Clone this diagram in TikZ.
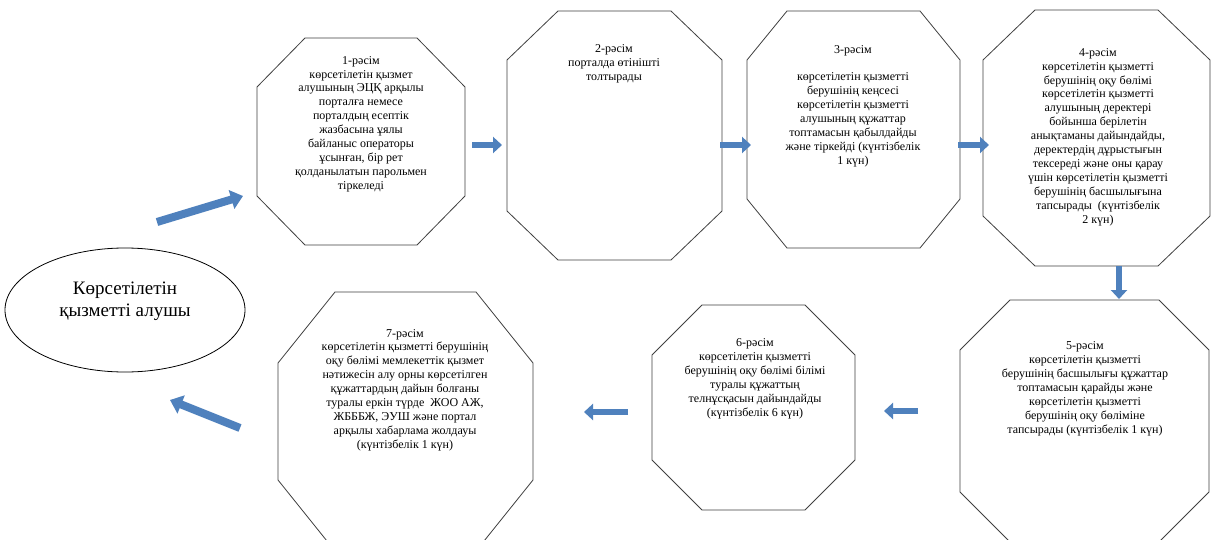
\documentclass[tikz,border=0pt]{standalone}
\usepackage{fontspec}
\setmainfont{Liberation Serif}
\usetikzlibrary{shapes.geometric,arrows.meta}
\definecolor{arrfill}{HTML}{4F81BD}
\definecolor{octcol}{HTML}{404040}
\tikzset{
  octa/.style={draw=octcol, line width=0.8pt, fill=white},
  txt/.style={align=center, inner sep=0pt, font=\fontsize{12}{13.9}\selectfont},
  barrow/.style={draw=arrfill, line width=6.5pt, -{Triangle[length=9pt,width=16pt]}},
  bigarrow/.style={draw=arrfill, line width=8pt, -{Triangle[length=12pt,width=19pt]}},
}
% name, x1, y1, x2, y2, cutx, cuty
\newcommand\octbox[7]{%
  \node[inner sep=0pt, minimum width={(#4-#2)*1pt}, minimum height={(#5-#3)*1pt}] (#1) at ({(#2+#4)/2},{(#3+#5)/2}) {};
  \draw[octa] (#2+#6,#3) -- (#4-#6,#3) -- (#4,#3+#7) -- (#4,#5-#7) -- (#4-#6,#5) -- (#2+#6,#5) -- (#2,#5-#7) -- (#2,#3+#7) -- cycle;
}
\begin{document}
\begin{tikzpicture}[x=1pt,y=-1pt]
\useasboundingbox (0,0) rectangle (1214,540);
\clip (0,0) rectangle (1214,540);
\fill[white] (0,0) rectangle (1214,540);

% ellipse
\node[ellipse, draw=black, line width=0.8pt, minimum width=240pt, minimum height=124pt] (e) at (125,310) {};
\node[align=center, inner sep=0pt, font=\fontsize{19}{22}\selectfont] (et) at (125,301) {Көрсетілетін\\қызметті алушы};

% octagons
\octbox{s1}{257}{38}{465}{245}{48}{49}
\octbox{s2}{507}{11}{722}{260}{51}{49}
\octbox{s3}{747}{11}{960}{248}{40}{49}
\octbox{s4}{983}{10}{1210}{266}{52}{50}
\octbox{s5}{960}{300}{1209}{542}{50}{50}
\octbox{s6}{652}{305}{855}{510}{50}{50}
\octbox{s7}{278}{292}{533}{551}{57}{71}

% texts
\node[txt] (t1) at (361,124) {1-рәсім\\көрсетілетін қызмет\\алушының ЭЦҚ арқылы\\порталға немесе\\порталдың есептік\\жазбасына ұялы\\байланыс операторы\\ұсынған, бір рет\\қолданылатын парольмен\\тіркеледі};
\node[txt] (t2) at (614,64) {2-рәсім\\порталда өтінішті\\толтырады};
\node[txt] (t3) at (853,106) {3-рәсім\\[13.9pt]көрсетілетін қызметті\\берушінің кеңсесі\\көрсетілетін қызметті\\алушының құжаттар\\топтамасын қабылдайды\\және тіркейді (күнтізбелік\\1 күн)};
\node[txt] (t4) at (1098,137) {4-рәсім\\көрсетілетін қызметті\\берушінің оқу бөлімі\\көрсетілетін қызметті\\алушының деректері\\бойынша берілетін\\анықтаманы дайындайды,\\деректердің дұрыстығын\\тексереді және оны қарау\\үшін көрсетілетін қызметті\\берушінің басшылығына\\тапсырады\ \ (күнтізбелік\\2 күн)};
\node[txt] (t5) at (1085,389) {5-рәсім\\көрсетілетін қызметті\\берушінің басшылығы құжаттар\\топтамасын қарайды және\\көрсетілетін қызметті\\берушінің оқу бөліміне\\тапсырады (күнтізбелік 1 күн)};
\node[txt] (t6) at (755,379) {6-рәсім\\көрсетілетін қызметті\\берушінің оқу бөлімі білімі\\туралы құжаттың\\телнұсқасын дайындайды\\(күнтізбелік 6 күн)};
\node[txt] (t7) at (405,390) {7-рәсім\\көрсетілетін қызметті берушінің\\оқу бөлімі мемлекеттік қызмет\\нәтижесін алу орны көрсетілген\\құжаттардың дайын болғаны\\туралы еркін түрде\ \ ЖОО АЖ,\\ЖБББЖ, ЭУШ және портал\\арқылы хабарлама жолдауы\\(күнтізбелік 1 күн)};

% arrow end points
\coordinate (a0s) at (157,222);  \coordinate (a0e) at (243,196);
\coordinate (a1s) at (472,145);  \coordinate (a1e) at (502,145);
\coordinate (a2s) at (720,145);  \coordinate (a2e) at (751,145);
\coordinate (a3s) at (958,145);  \coordinate (a3e) at (989,145);
\coordinate (a4s) at (1119,266); \coordinate (a4e) at (1119,299);
\coordinate (a5s) at (918,411);  \coordinate (a5e) at (884,411);
\coordinate (a6s) at (628,412);  \coordinate (a6e) at (584,412);
\coordinate (a7s) at (240,428);  \coordinate (a7e) at (170,400);

\draw[bigarrow] (a0s) -- (a0e);
\draw[barrow] (a1s) -- (a1e);
\draw[barrow] (a2s) -- (a2e);
\draw[barrow] (a3s) -- (a3e);
\draw[barrow] (a4s) -- (a4e);
\draw[barrow] (a5s) -- (a5e);
\draw[barrow] (a6s) -- (a6e);
\draw[bigarrow] (a7s) -- (a7e);
\end{tikzpicture}
\end{document}
